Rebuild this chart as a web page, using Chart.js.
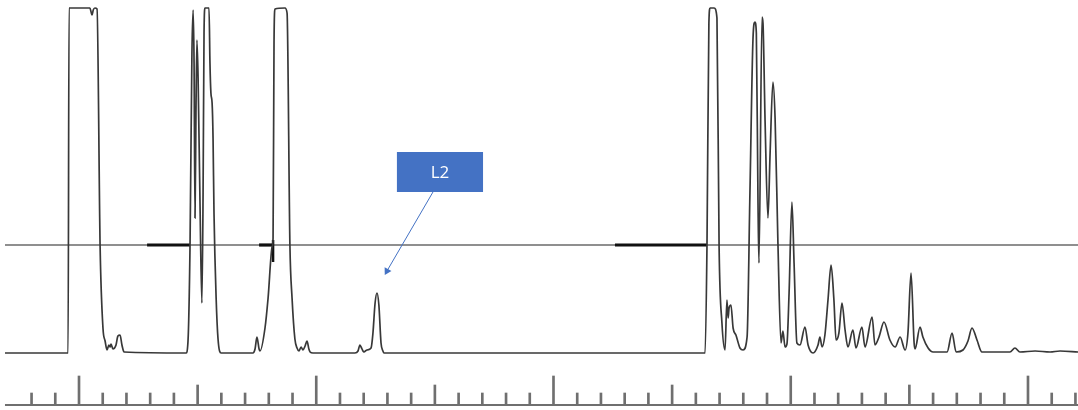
<!DOCTYPE html>
<html>
<head>
<meta charset="utf-8">
<style>
  html, body { margin: 0; padding: 0; background: #ffffff; }
  #wrap { width: 1078px; height: 410px; }
</style>
<script src="https://cdn.jsdelivr.net/npm/chart.js@4.4.1/dist/chart.umd.min.js"></script>
</head>
<body>
<div id="wrap"><canvas id="chart" width="1078" height="410"></canvas></div>
<script>
// retention time (min) and detector signal
const retentionTime = [
  6.88, 9.54, 9.58, 10.46, 10.51, 10.55, 10.60, 10.67, 10.76, 10.89, 11.01, 11.10,
  11.18, 11.26, 11.31, 11.35, 11.43, 11.56, 11.64, 11.73, 11.81, 11.90,
  14.51, 14.59, 14.68, 14.76, 14.81, 14.85, 14.89, 14.93, 14.97, 15.02, 15.10, 15.18,
  15.23, 15.27, 15.31, 15.48, 15.52, 15.56, 15.61, 15.65, 15.69, 15.78, 15.86, 15.99,
  17.33, 17.42, 17.50, 17.59, 17.63, 17.84, 17.97, 18.14, 18.18, 18.22, 18.26, 18.68,
  18.77, 18.89, 18.98, 19.10, 19.19, 19.27, 19.36, 19.44, 19.53, 19.61, 19.69, 19.74, 19.86,
  21.63, 21.76, 21.84, 21.89, 21.97, 22.01, 22.14, 22.31, 22.39, 22.48, 22.56, 22.64,
  22.73, 22.81, 22.86,
  36.39, 36.47, 36.55, 36.60, 36.77, 36.89, 36.98, 37.10, 37.23, 37.31, 37.36, 37.40,
  37.48, 37.57, 37.69, 37.86, 37.99, 38.16, 38.28, 38.41, 38.49, 38.55, 38.62, 38.66,
  38.79, 38.83, 38.92, 39.04, 39.13, 39.25, 39.34, 39.46, 39.59, 39.67, 39.76, 39.84,
  39.93, 40.05, 40.14, 40.26, 40.39, 40.60, 40.73, 40.94, 41.15, 41.23, 41.32, 41.44,
  41.57, 41.70, 41.82, 41.91, 42.03, 42.16, 42.29, 42.41, 42.62, 42.75, 43.00, 43.13,
  43.43, 43.55, 43.72, 43.93, 44.18, 44.40, 44.61, 44.82, 44.94, 45.07, 45.20, 45.24,
  45.45, 45.57, 45.79, 46.00, 46.59, 46.80, 46.97, 47.26, 47.47, 47.64, 47.85, 48.06,
  48.48, 49.24, 49.45, 49.66, 50.30, 50.93, 51.35, 52.11
];
const signal = [
  0, 0, 345, 345, 341, 338, 343, 345, 344, 106, 25, 12,
  3, 8, 6, 9, 4, 8, 17, 18, 8, 1,
  0, 10, 108, 300, 343, 290, 135, 240, 313, 275, 150, 50,
  160, 320, 345, 345, 290, 260, 250, 215, 140, 55, 14, 0,
  0, 4, 16, 4, 2, 25, 55, 106, 115, 310, 344, 345,
  340, 108, 55, 14, 5, 2, 6, 3, 7, 12, 4, 1, 0,
  0, 2, 8, 6, 2, 1, 3, 5, 20, 50, 60, 48,
  10, 2, 0,
  0, 108, 330, 345, 345, 335, 106, 30, 3, 53, 35, 45,
  48, 25, 18, 5, 3, 16, 160, 315, 331, 320, 150, 90,
  336, 330, 230, 135, 200, 271, 235, 110, 10, 22, 6, 9,
  60, 151, 90, 10, 8, 26, 8, 0, 8, 16, 6, 18,
  53, 88, 53, 13, 20, 50, 23, 6, 23, 5, 26, 6,
  36, 8, 16, 31, 13, 6, 16, 3, 20, 80, 10, 4,
  26, 16, 5, 1, 1, 20, 1, 3, 12, 25, 13, 1,
  1, 1, 5, 1, 2, 1, 2, 1
];

// detection threshold and integration windows on it
const threshold = 108;
const integrationWindows = [[12.87, 14.68], [17.59, 18.18], [32.59, 36.47]];
const crossMark = { time: 18.18, low: 91, high: 113 };

// time ruler
const majorTicks = [10, 20, 30, 40, 50];
const midTicks = [15, 25, 35, 45];
const minorTicks = [
  8, 9, 11, 12, 13, 14, 16, 17, 18, 19, 21, 22, 23, 24, 26, 27, 28, 29,
  31, 32, 33, 34, 36, 37, 38, 39, 41, 42, 43, 44, 46, 47, 48, 49, 51, 52
];

// callout
const calloutText = "L2";
const calloutBox = { left: 23.40, right: 27.03, top: 201, bottom: 161 };
const calloutArrow = [{ x: 24.92, y: 161 }, { x: 22.98, y: 82 }];

const X_MIN = 6.67;
const X_MAX = 52.108;
const RULER_BASE = -52;
const TICK_TOP = { major: -23, mid: -32, minor: -40 };

const tracePoints = retentionTime.map((t, i) => ({ x: t, y: signal[i] }));

function tickBars(ticks, top) {
  return {
    type: "bar",
    data: ticks.map((t) => ({ x: t, y: [RULER_BASE, top] })),
    backgroundColor: "#6f6f6f",
    barThickness: 2,
    grouped: false,
    borderWidth: 0,
  };
}

function segment(x0, x1, y0, y1, color, width) {
  return {
    type: "line",
    data: [{ x: x0, y: y0 }, { x: x1, y: y1 }],
    borderColor: color,
    borderWidth: width,
    pointRadius: 0,
    clip: false,
  };
}

const calloutPlugin = {
  id: "callout",
  afterDatasetsDraw(chart) {
    const { ctx } = chart;
    const xs = chart.scales.x;
    const ys = chart.scales.y;
    const l = xs.getPixelForValue(calloutBox.left);
    const r = xs.getPixelForValue(calloutBox.right);
    const t = ys.getPixelForValue(calloutBox.top);
    const b = ys.getPixelForValue(calloutBox.bottom);
    ctx.save();
    ctx.fillStyle = "#4472c4";
    ctx.fillRect(l, t, r - l, b - t);
    ctx.fillStyle = "#ffffff";
    ctx.font = "17px 'Open Sans', sans-serif";
    ctx.textAlign = "center";
    ctx.textBaseline = "middle";
    ctx.fillText(calloutText, (l + r) / 2, (t + b) / 2 + 1);
    ctx.restore();
  },
};

const datasets = [
  {
    type: "line",
    data: calloutArrow,
    borderColor: "#4472c4",
    borderWidth: 1,
    pointRadius: [0, 4.5],
    pointStyle: "triangle",
    pointRotation: 209,
    pointBackgroundColor: "#4472c4",
    pointBorderWidth: 0,
  },
  {
    type: "line",
    data: tracePoints,
    borderColor: "#383838",
    borderWidth: 1.7,
    pointRadius: 0,
    cubicInterpolationMode: "monotone",
    clip: false,
  },
  ...integrationWindows.map((w) => segment(w[0], w[1], threshold, threshold, "#111111", 3.2)),
  segment(crossMark.time, crossMark.time, crossMark.low, crossMark.high, "#111111", 2.5),
  segment(6.88, X_MAX, threshold, threshold, "#6a6a6a", 1.5),
  segment(6.88, X_MAX, RULER_BASE, RULER_BASE, "#6f6f6f", 2),
  tickBars(majorTicks, TICK_TOP.major),
  tickBars(midTicks, TICK_TOP.mid),
  tickBars(minorTicks, TICK_TOP.minor),
];

new Chart(document.getElementById("chart").getContext("2d"), {
  type: "line",
  data: { datasets: datasets },
  options: {
    responsive: false,
    animation: false,
    devicePixelRatio: 1,
    layout: { padding: 0, autoPadding: false },
    scales: {
      x: { type: "linear", display: false, offset: false, min: X_MIN, max: X_MAX },
      y: { type: "linear", display: false, min: -57, max: 353 },
    },
    plugins: {
      legend: { display: false },
      tooltip: { enabled: false },
    },
  },
  plugins: [calloutPlugin],
});
</script>
</body>
</html>
